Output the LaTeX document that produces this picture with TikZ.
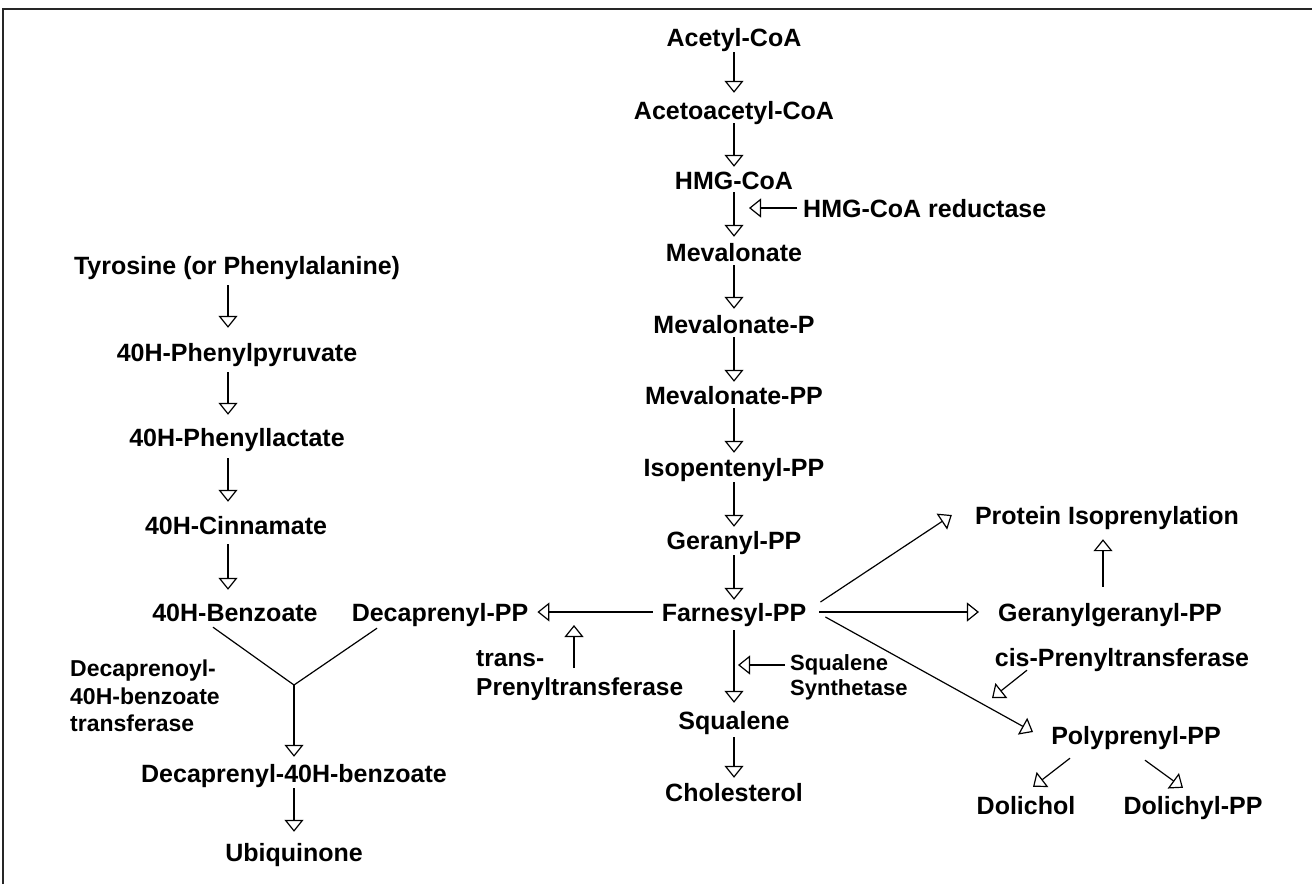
\documentclass[tikz,border=0pt]{standalone}
\usepackage{fontspec}
\setmainfont{Liberation Sans}
\usetikzlibrary{arrows.meta}
\newcommand\pwfont{\bfseries\fontsize{25}{30}\selectfont}
\newcommand\pwcst{\rule{0pt}{0.716em}}
\tikzset{
  lab/.style={font=\pwfont, inner sep=0pt, text height=18pt, text depth=0pt},
  mlab/.style={inner sep=0pt, align=left, anchor=north west},
  conn/.style={line width=1.2pt, black},
  arr/.style={conn, -{Triangle[open, length=12pt, width=19pt, line width=1.2pt]}, shorten <=5pt, shorten >=5pt},
  frame/.style={line width=2pt, black!85}
}
\begin{document}
\begin{tikzpicture}[x=1pt,y=-1pt]
\useasboundingbox (0,0) rectangle (1312,884);
\draw[frame] (3,884) -- (3,9) -- (1312,9);

% central column
\node[lab] (acetyl) at (734,37) {Acetyl-CoA};
\node[lab] (acetoac) at (734,110) {Acetoacetyl-CoA};
\node[lab] (hmg) at (734,180) {HMG-CoA};
\node[lab] (mev) at (734,252) {Mevalonate};
\node[lab] (mevp) at (734,324) {Mevalonate-P};
\node[lab] (mevpp) at (734,395) {Mevalonate-PP};
\node[lab] (ipp) at (734,467) {Isopentenyl-PP};
\node[lab] (ger) at (734,540) {Geranyl-PP};
\node[lab] (farn) at (734,612) {Farnesyl-PP};
\node[lab] (squal) at (734,720) {Squalene};
\node[lab] (chol) at (734,792) {Cholesterol};
\node[lab, anchor=west] (hmgr) at (803,208) {HMG-CoA reductase};
\coordinate (hmgtip) at (749,208);
\node[mlab, font=\bfseries\fontsize{22}{25}\selectfont] (ss) at (790,654) {\pwcst Squalene\\Synthetase};
\coordinate (sstip) at (738,665);

\draw[arr, shorten <=6pt, shorten >=8pt] (acetyl.south) -- (acetoac.north);
\draw[arr, shorten <=4pt, shorten >=4pt] (acetoac.south) -- (hmg.north);
\draw[arr, shorten <=3pt, shorten >=6pt] (hmg.south) -- (mev.north);
\draw[arr, shorten <=4pt, shorten >=6pt] (mev.south) -- (mevp.north);
\draw[arr, shorten <=4pt, shorten >=4pt] (mevp.south) -- (mevpp.north);
\draw[arr, shorten <=4pt, shorten >=5pt] (mevpp.south) -- (ipp.north);
\draw[arr, shorten <=6pt, shorten >=4pt] (ipp.south) -- (ger.north);
\draw[arr, shorten <=6pt, shorten >=3pt] (ger.south) -- (farn.north);
\draw[arr, shorten <=9pt, shorten >=8pt] (farn.south) -- (squal.north);
\draw[arr, shorten <=8pt, shorten >=5pt] (squal.south) -- (chol.north);
\draw[arr, shorten <=6pt, shorten >=0pt] (hmgr.west) -- (hmgtip);
\draw[arr, shorten <=5pt, shorten >=0pt] (ss.north west |- sstip) -- (sstip);

% left column
\node[lab] (tyr) at (237,265) {Tyrosine (or Phenylalanine)};
\node[lab] (php) at (237,352) {40H-Phenylpyruvate};
\node[lab] (phl) at (237,437) {40H-Phenyllactate};
\node[lab] (cin) at (236,525) {40H-Cinnamate};
\node[lab] (benz) at (235,612) {40H-Benzoate};
\node[lab] (decpp) at (440,612) {Decaprenyl-PP};
\node[lab] (d40) at (294,773) {Decaprenyl-40H-benzoate};
\node[lab] (ubi) at (294,852) {Ubiquinone};
\node[mlab, font=\bfseries\fontsize{23}{27.5}\selectfont] (dl) at (70,660) {\pwcst Decaprenoyl-\\40H-benzoate\\transferase};
\node[mlab, font=\bfseries\fontsize{24.5}{29}\selectfont] (tp) at (476,649) {\pwcst trans-\\Prenyltransferase};
\coordinate (yj) at (294,685);
\coordinate (tptail) at (574,668);
\coordinate (tptip) at (574,625);

\draw[arr, shorten <=11pt, shorten >=15pt] ([xshift=-9pt]tyr.south) -- ([xshift=-9pt]php.north);
\draw[arr, shorten <=11pt, shorten >=13pt] ([xshift=-9pt]php.south) -- ([xshift=-9pt]phl.north);
\draw[arr, shorten <=12pt, shorten >=14pt] ([xshift=-9pt]phl.south) -- ([xshift=-8pt]cin.north);
\draw[arr, shorten <=10pt, shorten >=13pt] ([xshift=-8pt]cin.south) -- ([xshift=-7pt]benz.north);
\draw[conn] ([xshift=-22pt,yshift=-6pt]benz.south) -- (yj) -- ([xshift=-63pt,yshift=-7pt]decpp.south);
\draw[arr, shorten <=0pt, shorten >=7pt] (yj) -- (d40.north);
\draw[arr, shorten <=6pt, shorten >=11pt] (d40.south) -- (ubi.north);
\draw[arr, shorten <=9pt, shorten >=9pt] (farn.west) -- (decpp.east);
\draw[arr, shorten <=0pt, shorten >=0pt] (tptail) -- (tptip);

% right side
\node[lab] (prot) at (1107,515) {Protein Isoprenylation};
\node[lab] (gg) at (1110,612) {Geranylgeranyl-PP};
\node[lab] (cis) at (1122,657) {cis-Prenyltransferase};
\node[lab] (poly) at (1136,735) {Polyprenyl-PP};
\node[lab] (dol) at (1026,805) {Dolichol};
\node[lab] (dolpp) at (1193,805) {Dolichyl-PP};
\coordinate (cistip) at (992,698);

\draw[arr, shorten <=0pt, shorten >=0pt] ([xshift=14pt,yshift=10pt]farn.east) -- ([xshift=-23pt]prot.west);
\draw[arr, shorten <=13pt, shorten >=19pt] (farn.east) -- (gg.west);
\draw[arr, shorten <=0pt, shorten >=0pt] ([xshift=19pt,yshift=-5pt]farn.east) -- ([xshift=-18pt,yshift=3pt]poly.west);
\draw[arr, shorten <=16pt, shorten >=15pt] ([xshift=-7pt]gg.north) -- ([xshift=-4pt]prot.south);
\draw[arr, shorten <=0pt, shorten >=0pt] ([xshift=-95pt,yshift=-4pt]cis.south) -- (cistip);
\draw[arr, shorten <=0pt, shorten >=0pt] ([xshift=-66pt,yshift=-14pt]poly.south) -- ([xshift=7pt,yshift=9pt]dol.north);
\draw[arr, shorten <=0pt, shorten >=0pt] ([xshift=9pt,yshift=-16pt]poly.south) -- ([xshift=-10pt,yshift=8pt]dolpp.north);
\end{tikzpicture}
\end{document}
